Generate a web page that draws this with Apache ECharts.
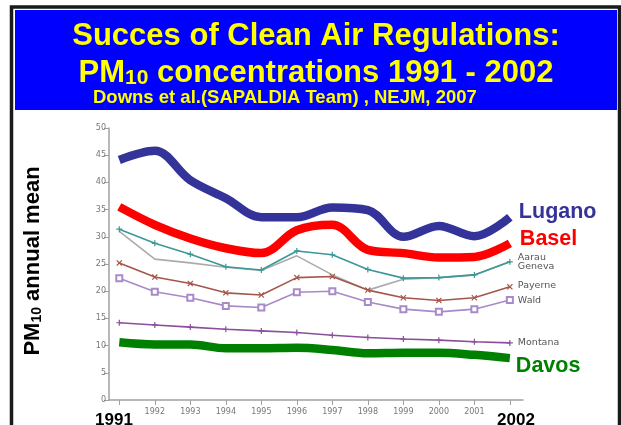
<!DOCTYPE html>
<html>
<head>
<meta charset="utf-8">
<script src="https://cdn.jsdelivr.net/npm/echarts@6/dist/echarts.min.js"></script>
<style>
  html, body { margin: 0; padding: 0; background: #fff; }
  #chart { width: 621px; height: 425px; }
</style>
</head>
<body>
<div id="chart"></div>
<script>
// years on the x axis (small labels only for the inner years)
var years = [1991, 1992, 1993, 1994, 1995, 1996, 1997, 1998, 1999, 2000, 2001, 2002];
var innerYears = [1992, 1993, 1994, 1995, 1996, 1997, 1998, 1999, 2000, 2001];
var yTicks = [0, 5, 10, 15, 20, 25, 30, 35, 40, 45, 50];

// PM10 annual mean per station
var lugano  = [44.1, 45.8, 40.4, 37.1, 33.6, 33.6, 35.4, 34.9, 30.0, 32.0, 30.1, 33.6];
var basel   = [35.5, 32.2, 29.7, 27.9, 27.0, 31.2, 32.2, 27.6, 27.0, 26.2, 26.3, 28.8];
var aarau   = [31.4, 28.8, 26.8, 24.5, 23.9, 27.4, 26.7, 24.0, 22.4, 22.5, 23.0, 25.4];
var geneva  = [31.0, 25.9, 25.2, 24.4, 23.8, 26.5, 23.0, 20.2, 22.2, 22.5, 23.0, 25.4];
var payerne = [25.2, 22.6, 21.4, 19.7, 19.3, 22.5, 22.7, 20.2, 18.8, 18.3, 18.8, 20.8];
var wald    = [22.4, 19.9, 18.8, 17.3, 17.0, 19.8, 20.0, 18.0, 16.7, 16.2, 16.7, 18.4];
var montana = [14.2, 13.8, 13.4, 13.0, 12.7, 12.4, 11.9, 11.5, 11.2, 11.0, 10.7, 10.5];
var davos   = [10.6, 10.2, 10.2, 9.5, 9.5, 9.6, 9.2, 8.6, 8.7, 8.7, 8.3, 7.7];

function pairs(vals) {
  return years.map(function (y, i) { return [y, vals[i]]; });
}

var plus = 'path://M4,0h2v4h4v2h-4v4h-2v-4h-4v-2h4z';
var cross = 'path://M1.4,0L5,3.6L8.6,0L10,1.4L6.4,5L10,8.6L8.6,10L5,6.4L1.4,10L0,8.6L3.6,5L0,1.4z';

function thin(name, vals, color, symbol, dy) {
  return {
    name: name, type: 'line', data: pairs(vals), z: 2,
    lineStyle: { color: color, width: 1.6 },
    itemStyle: { color: color },
    symbol: symbol || 'none', symbolSize: 6, showSymbol: !!symbol,
    endLabel: { show: true, formatter: name, color: '#555', fontSize: 9.5,
      fontFamily: 'DejaVu Sans', distance: 8, offset: [0, dy] },
    silent: true, animation: false
  };
}

function thick(name, vals, color, dy, dx) {
  return {
    name: name, type: 'line', data: pairs(vals), z: 5,
    smooth: 0.35, symbol: 'none',
    lineStyle: { color: color, width: 8.5, cap: 'butt' },
    endLabel: { show: true, formatter: name, color: color, fontSize: 21.5,
      fontWeight: 'bold', fontFamily: 'Liberation Sans', distance: dx, offset: [0, dy] },
    silent: true, animation: false
  };
}

var chart = echarts.init(document.getElementById('chart'));

var option = {
  backgroundColor: '#fff',
  animation: false,
  grid: { left: 109, right: 98, top: 128, bottom: 25 },
  xAxis: {
    type: 'value', min: 1990.71, max: 2002.37,
    axisLine: { show: true, lineStyle: { color: '#a0a0a0', width: 1.5 } },
    axisTick: { show: true, customValues: years, length: 5, lineStyle: { color: '#a0a0a0' } },
    axisLabel: { customValues: innerYears, color: '#777', fontSize: 8, margin: 8,
      fontFamily: 'DejaVu Sans', formatter: function (v) { return String(v); } },
    splitLine: { show: false }
  },
  yAxis: {
    type: 'value', min: 0, max: 50, interval: 5,
    axisLine: { show: true, lineStyle: { color: '#a0a0a0', width: 1.5 } },
    axisTick: { show: true, length: 5, lineStyle: { color: '#a0a0a0' } },
    axisLabel: { color: '#777', fontSize: 8, margin: 3, fontFamily: 'DejaVu Sans',
      customValues: yTicks, formatter: function (v) { return String(v); } },
    splitLine: { show: false }
  },
  graphic: [
    // frame and title box
    { type: 'rect', shape: { x: 11.5, y: 7, width: 608, height: 440 },
      style: { fill: null, stroke: '#1a1a1a', lineWidth: 3.5 }, silent: true },
    { type: 'rect', shape: { x: 15, y: 10, width: 602, height: 100 },
      style: { fill: '#0000ff' }, silent: true },
    { type: 'text', x: 316, y: 21,
      style: { text: 'Succes of Clean Air Regulations:', fill: '#ffff00',
        font: 'bold 31px "Liberation Sans", Arial', textAlign: 'center' }, silent: true },
    { type: 'text', x: 316, y: 55,
      style: { text: '{a|PM}{s|10}{a| concentrations 1991 - 2002}', fill: '#ffff00',
        textAlign: 'center',
        rich: {
          a: { fontSize: 31, fontWeight: 'bold', fontFamily: 'Liberation Sans', fill: '#ffff00', verticalAlign: 'bottom', lineHeight: 34 },
          s: { fontSize: 21, fontWeight: 'bold', fontFamily: 'Liberation Sans', fill: '#ffff00', verticalAlign: 'bottom', lineHeight: 30 }
        } }, silent: true },
    { type: 'text', x: 93, y: 88,
      style: { text: 'Downs et al.(SAPALDIA Team) , NEJM, 2007', fill: '#ffff00',
        font: 'bold 18.5px "Liberation Sans", Arial' }, silent: true },
    // axis title
    { type: 'text', x: 32, y: 261, rotation: Math.PI / 2,
      style: { text: '{a|PM}{s|10}{a| annual mean}', textAlign: 'center', textVerticalAlign: 'middle',
        rich: {
          a: { fontSize: 22, fontWeight: 'bold', fontFamily: 'Liberation Sans', fill: '#000', verticalAlign: 'bottom', lineHeight: 24 },
          s: { fontSize: 14, fontWeight: 'bold', fontFamily: 'Liberation Sans', fill: '#000', verticalAlign: 'bottom', lineHeight: 20 }
        } }, silent: true },
    // first / last year in bold
    { type: 'text', x: 114, y: 412,
      style: { text: '1991', fill: '#000', font: 'bold 17px "Liberation Sans", Arial', textAlign: 'center' }, silent: true },
    { type: 'text', x: 516, y: 412,
      style: { text: '2002', fill: '#000', font: 'bold 17px "Liberation Sans", Arial', textAlign: 'center' }, silent: true }
  ],
  series: [
    thin('Geneva', geneva, '#ababab', null, 5),
    thin('Aarau', aarau, '#3a9898', plus, -4),
    thin('Payerne', payerne, '#a5564a', cross, -1),
    thin('Wald', wald, '#a98ac8', 'emptyRect', 1),
    thin('Montana', montana, '#8a4f9a', plus, 0),
    thick('Davos', davos, '#008000', 8, 6),
    thick('Basel', basel, '#ff0000', -4, 10),
    thick('Lugano', lugano, '#333399', -5, 9)
  ]
};

chart.setOption(option);
</script>
</body>
</html>
